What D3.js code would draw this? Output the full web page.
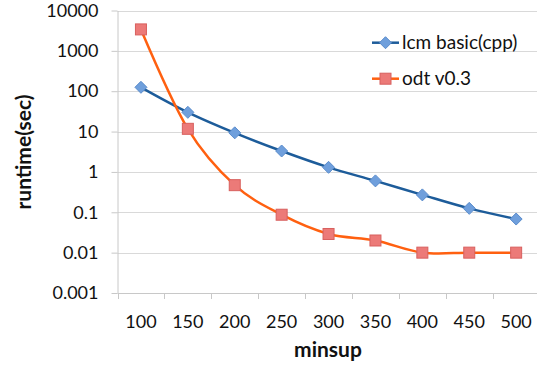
<!DOCTYPE html>
<html>
<head>
<meta charset="utf-8">
<script src="https://cdn.jsdelivr.net/npm/d3@7"></script>
<style>
  body { margin: 0; background: #fff; }
  svg { display: block; font-family: Lato, "Open Sans", sans-serif; }
</style>
</head>
<body>
<svg class="chart" width="537" height="367"></svg>
<script>
// data
const minsup = [100, 150, 200, 250, 300, 350, 400, 450, 500]
const lcmBasic = [125, 30, 9.3, 3.3, 1.3, 0.6, 0.27, 0.125, 0.068]
const odt = [3400, 11.7, 0.47, 0.087, 0.029, 0.02, 0.01, 0.01, 0.01]
const yTicks = [0.001, 0.01, 0.1, 1, 10, 100, 1000, 10000]

const series = [
    {name: "lcm basic(cpp)", values: lcmBasic, line: "#1d5c9a", fill: "#6f9fdc", stroke: "#5a8ccc", shape: "diamond"},
    {name: "odt v0.3", values: odt, line: "#ff6010", fill: "#ec7a78", stroke: "#d8605e", shape: "square"}
]

const svg = d3.select("svg.chart")

const plotLeft = 117.5, plotTop = 10.5, plotBottom = 293
const step = 46.9

const scaleX = d3.scaleBand()
    .domain(minsup)
    .range([plotLeft, plotLeft + step * minsup.length])

const scaleY = d3.scaleLog()
    .domain([0.001, 10000])
    .range([plotBottom, plotTop])

// gridlines
svg.append("g")
    .selectAll("line")
    .data(yTicks.slice(1))
    .enter().append("line")
    .attr("x1", plotLeft)
    .attr("x2", 537)
    .attr("y1", d => Math.round(scaleY(d)) + 0.5)
    .attr("y2", d => Math.round(scaleY(d)) + 0.5)
    .attr("stroke", "#d9d9d9")
    .attr("stroke-width", 1)

// y axis
const axisY = d3.axisLeft(scaleY)
    .tickValues(yTicks)
    .tickFormat(d => String(d))
    .tickSizeInner(6)
    .tickSizeOuter(0)
    .tickPadding(13)
const axisYGroup = svg.append("g")
    .attr("transform", `translate(${plotLeft}, 0)`)
    .call(axisY)
axisYGroup.select(".domain").attr("stroke", "#c8c8c8")
axisYGroup.selectAll(".tick line").attr("stroke", "#c8c8c8")
axisYGroup.selectAll(".tick text")
    .attr("font-size", "18px")
    .attr("fill", "#111")
    .attr("font-family", "Lato, sans-serif")

// x axis, ticks between categories
const xEdges = d3.range(minsup.length + 1).map(i => plotLeft + i * step)
svg.append("line")
    .attr("x1", plotLeft).attr("x2", 537)
    .attr("y1", plotBottom + 0.5).attr("y2", plotBottom + 0.5)
    .attr("stroke", "#c8c8c8")
svg.append("g")
    .selectAll("line")
    .data(xEdges)
    .enter().append("line")
    .attr("x1", d => Math.round(d) + 0.5)
    .attr("x2", d => Math.round(d) + 0.5)
    .attr("y1", plotBottom)
    .attr("y2", plotBottom + 6)
    .attr("stroke", "#c8c8c8")
svg.append("g")
    .selectAll("text")
    .data(minsup)
    .enter().append("text")
    .attr("x", d => scaleX(d) + scaleX.bandwidth() / 2)
    .attr("y", 328)
    .attr("text-anchor", "middle")
    .attr("font-size", "18px")
    .attr("fill", "#111")
    .text(d => d)

// axis titles
svg.append("text")
    .attr("transform", "translate(31, 152) rotate(-90)")
    .attr("text-anchor", "middle")
    .attr("font-size", "21px")
    .attr("font-weight", "bold")
    .attr("fill", "#111")
    .text("runtime(sec)")

svg.append("text")
    .attr("x", 328)
    .attr("y", 357)
    .attr("text-anchor", "middle")
    .attr("font-size", "21px")
    .attr("font-weight", "bold")
    .attr("fill", "#111")
    .text("minsup")

const cx = (d, i) => scaleX(minsup[i]) + scaleX.bandwidth() / 2

const line = d3.line()
    .x((d, i) => cx(d, i))
    .y(d => scaleY(d))
    .curve(d3.curveCardinal.tension(0))

const drawMarker = (g, s) => {
    if (s.shape === "diamond") {
        g.append("path")
            .attr("d", "M0,-6L6,0L0,6L-6,0Z")
    } else {
        g.append("rect")
            .attr("x", -5.5).attr("y", -5.5)
            .attr("width", 11).attr("height", 11)
    }
    g.selectAll("path, rect")
        .attr("fill", s.fill)
        .attr("stroke", s.stroke)
        .attr("stroke-width", 1)
}

series.forEach(s => {
    svg.append("path")
        .attr("d", line(s.values))
        .attr("fill", "none")
        .attr("stroke", s.line)
        .attr("stroke-width", 2.5)
})

series.forEach(s => {
    s.values.forEach((v, i) => {
        const g = svg.append("g")
            .attr("transform", `translate(${cx(v, i)}, ${scaleY(v)})`)
        drawMarker(g, s)
    })
})

// legend
series.forEach((s, i) => {
    const y = 42.7 + i * 36
    const g = svg.append("g").attr("transform", `translate(372, ${y})`)
    g.append("line")
        .attr("x1", 0).attr("x2", 27)
        .attr("y1", 0).attr("y2", 0)
        .attr("stroke", s.line)
        .attr("stroke-width", 2.5)
    const m = g.append("g").attr("transform", "translate(13.5, 0)")
    drawMarker(m, s)
    g.append("text")
        .attr("x", 30)
        .attr("y", 6.5)
        .attr("font-size", "19px")
        .attr("fill", "#111")
        .text(s.name)
})
</script>
</body>
</html>
